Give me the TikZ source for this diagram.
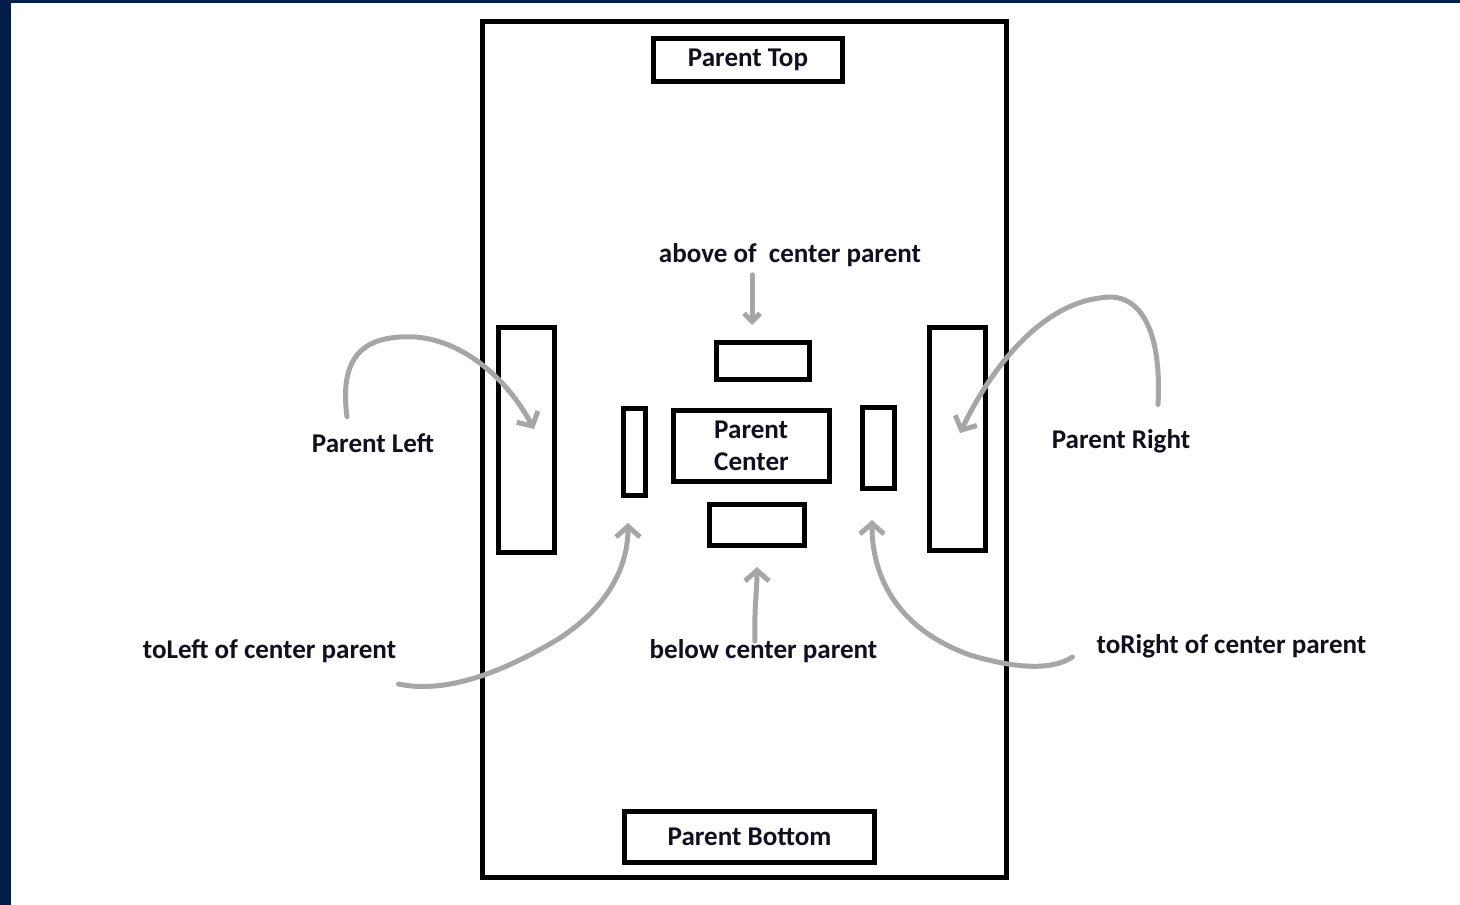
\documentclass[tikz,border=0pt]{standalone}
\usepackage{fontspec}
\setmainfont{Carlito}
\usetikzlibrary{arrows.meta}
\definecolor{navy}{HTML}{021E48}
\definecolor{pen}{HTML}{A6A6A6}
\definecolor{ink}{HTML}{10101E}

\tikzset{
  box/.style={draw, line width=3.75pt, inner sep=0pt},
  lbl/.style={text=ink, font=\fontsize{20.3}{24}\selectfont\bfseries, inner sep=0pt},
  hand/.style={pen, line width=3.75pt, line cap=round, line join=round,
    -{Straight Barb[length=8pt,width=18pt]}},
}

\begin{document}
\begin{tikzpicture}[x=0.75pt,y=-0.75pt]
  \useasboundingbox (0,0) rectangle (1460,905);
  \fill[navy] (0,0) rectangle (1460,905);
  \fill[white] (11,3) rectangle (1460,905);

  % parent and its children
  \node[box, minimum width=393pt, minimum height=642pt] (outer) at (744.5,449.5) {};
  \node[box, lbl, minimum width=141.75pt, minimum height=32.25pt] (ptop) at (748,60) {Parent Top};
  \node[box, lbl, minimum width=187.5pt, minimum height=38.25pt] (pbottom) at (749.5,837) {Parent Bottom};
  \node[box, minimum width=42pt, minimum height=168.75pt] (pleft) at (526.5,440) {};
  \node[box, minimum width=42pt, minimum height=167.25pt] (pright) at (957.5,439) {};
  \node[box, lbl, align=left, minimum width=117pt, minimum height=53.25pt] (pcenter) at (751.5,446) {Parent\\Center};
  \node[box, minimum width=69.75pt, minimum height=27.75pt] (above) at (763,361) {};
  \node[box, minimum width=71.25pt, minimum height=30.75pt] (below) at (757,525) {};
  \node[box, minimum width=16.5pt, minimum height=65.25pt] (lsmall) at (634.5,452) {};
  \node[box, minimum width=24pt, minimum height=60.75pt] (rsmall) at (878.5,448) {};

  % labels
  \node[lbl] (labove) at (790,255) {above of\ \ center parent};
  \node[lbl] (lleft) at (373,443) {Parent Left};
  \node[lbl] (lright) at (1121,441) {Parent Right};
  \node[lbl] (ltoleft) at (269.5,651) {toLeft of center parent};
  \node[lbl] (lbelow) at (763.5,651) {below center parent};
  \node[lbl] (ltoright) at (1231.5,646) {toRight of center parent};

  % hand drawn arrows
  \draw[hand, -{Straight Barb[length=6pt,width=12pt]}]
    ([xshift=-28.5pt,yshift=-6pt]labove.south) -- ([xshift=-8.25pt,yshift=11.25pt]above.north);
  \draw[hand] ([xshift=-19.5pt,yshift=12.4pt]lleft.north)
    .. controls (338,350) and (370,335) .. (415,337)
    .. controls (460,340) and (505,375) .. ([xshift=5.6pt,yshift=8.25pt]pleft.center);
  \draw[hand] ([xshift=27.75pt,yshift=18.4pt]lright.north)
    .. controls (1162,330) and (1140,290) .. (1100,298)
    .. controls (1040,305) and (990,370) .. ([xshift=1.9pt,yshift=4.5pt]pright.center);
  \draw[hand] ([xshift=1.5pt,yshift=-24.75pt]ltoleft.east)
    .. controls (450,695) and (510,668) .. (560,638)
    .. controls (610,605) and (628,565) .. ([xshift=-4.9pt,yshift=-18.75pt]lsmall.south);
  \draw[hand] ([xshift=-6.4pt,yshift=-1.5pt]lbelow.north)
    .. controls (754,610) and (757,590) .. ([yshift=-14.25pt]below.south);
  \draw[hand] ([xshift=-18pt,yshift=-8.25pt]ltoright.west)
    .. controls (1050,672) and (1010,667) .. (970,655)
    .. controls (900,630) and (872,580) .. ([xshift=-4.9pt,yshift=-21.75pt]rsmall.south);
\end{tikzpicture}
\end{document}
